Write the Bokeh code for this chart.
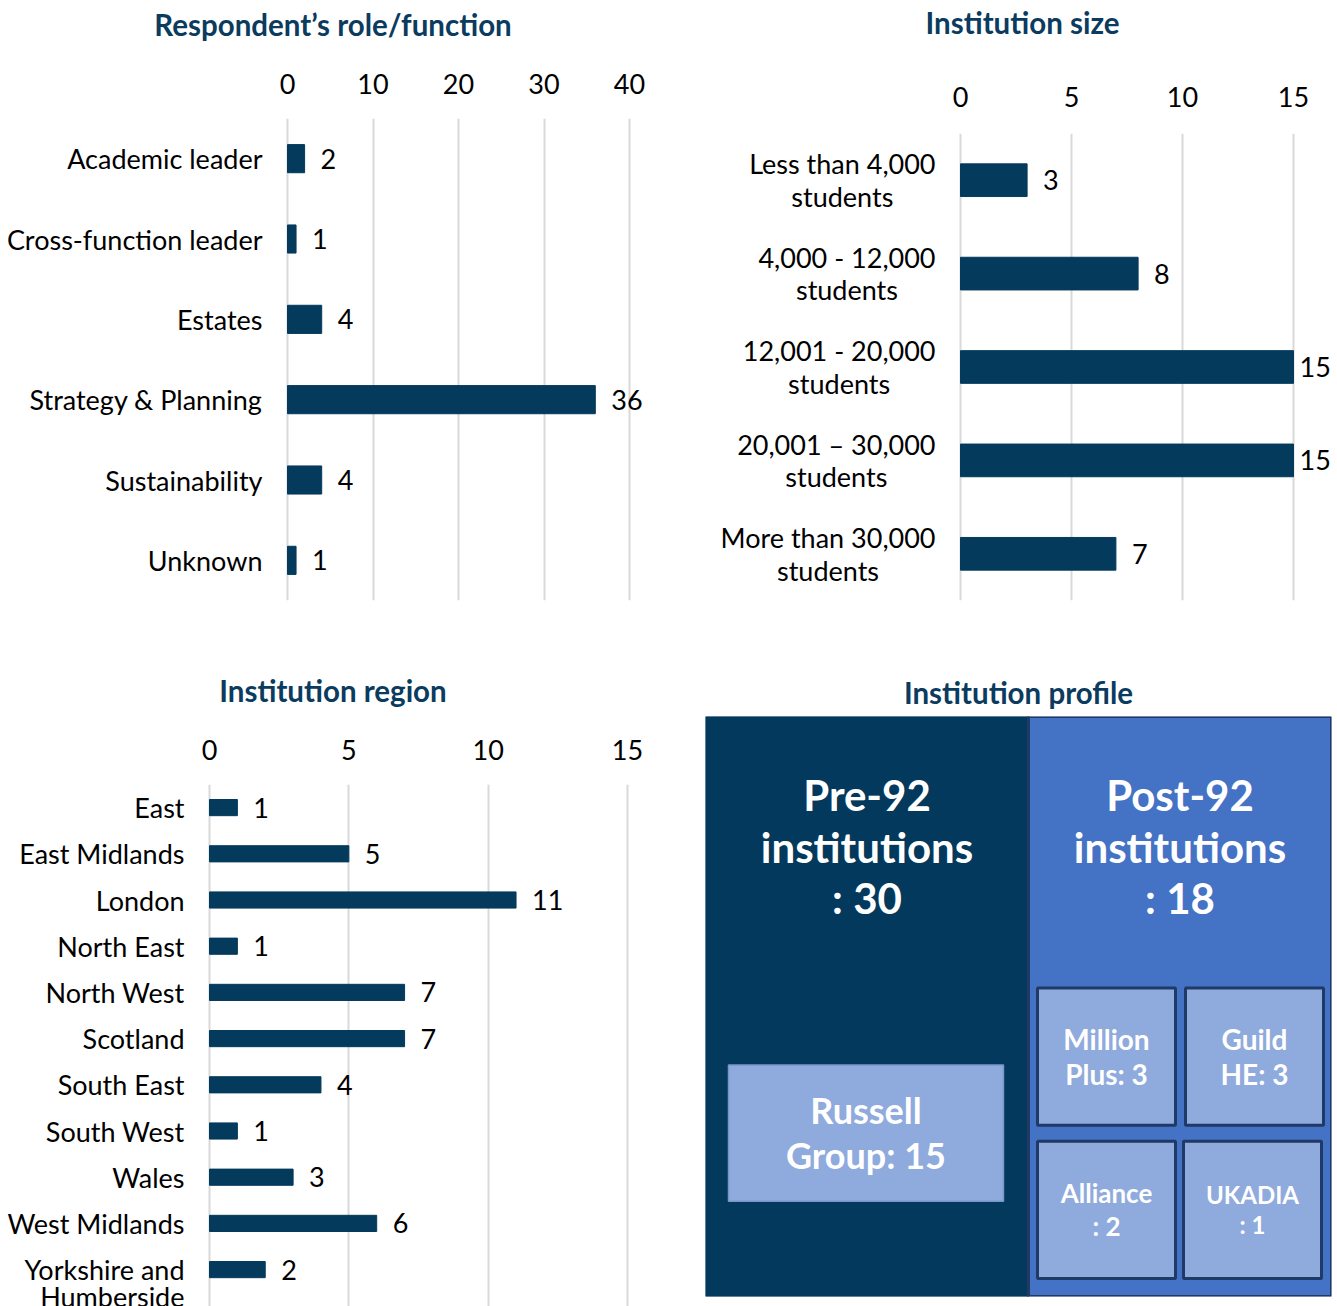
from bokeh.plotting import figure
from bokeh.models import Range1d, FactorRange, FixedTicker, ColumnDataSource
from bokeh.layouts import column, row
from bokeh.embed import file_html
from bokeh.resources import INLINE
from bokeh.core.properties import value

# ---------------- data ----------------
roles = ["Academic leader", "Cross-function leader", "Estates",
         "Strategy & Planning", "Sustainability", "Unknown"]
role_counts = [2, 1, 4, 36, 4, 1]
role_ticks = [0, 10, 20, 30, 40]

sizes = ["Less than 4,000\nstudents", "4,000 - 12,000\nstudents",
         "12,001 - 20,000\nstudents", "20,001 \u2013 30,000\nstudents",
         "More than 30,000\nstudents"]
size_counts = [3, 8, 15, 15, 7]
size_ticks = [0, 5, 10, 15]

regions = ["East", "East Midlands", "London", "North East", "North West",
           "Scotland", "South East", "South West", "Wales", "West Midlands",
           "Yorkshire and\nHumberside"]
region_counts = [1, 5, 11, 1, 7, 7, 4, 1, 3, 6, 2]
region_ticks = [0, 5, 10, 15]

profile_groups = ["Pre-92 institutions", "Post-92 institutions", "Russell Group",
                  "Million Plus", "Guild HE", "Alliance", "UKADIA"]
profile_counts = [30, 18, 15, 3, 3, 2, 1]
profile_label_fmt = ["Pre-92\ninstitutions\n: {}", "Post-92\ninstitutions\n: {}",
                     "Russell\nGroup: {}", "Million\nPlus: {}", "Guild\nHE: {}",
                     "Alliance\n: {}", "UKADIA\n: {}"]

# ---------------- style ----------------
FONT = "Lato"
BAR = "#043A5C"
TITLE_C = "#0B3B5E"
GRID = "#D9D9D9"
LBL = "27px"
TTL = "29.5px"

W_L, W_R = 665, 672
H_T, H_B = 666, 640


def plain(p):
    p.outline_line_color = None
    p.background_fill_color = "white"
    p.border_fill_color = "white"


def bar_panel(title, cats, vals, ticks, width, height, x_range, y_range, ypos,
              borders, title_standoff, label_standoff, line_px,
              center_lines=False):
    nlines = [c.count("\n") + 1 for c in cats]
    # value labels sit 16px after the bar, pulled in when the bar reaches the last tick
    voff = [16 if v < ticks[-1] else 6 for v in vals]
    # multi-line labels: first line level with the bar (right-aligned blocks) or centred
    yoff = [0 if center_lines else (n - 1) * line_px / 2 for n in nlines]
    src = ColumnDataSource(dict(cat=cats, y=ypos, val=vals,
                                vtxt=[str(v) for v in vals],
                                zero=[0] * len(cats), voff=voff, yoff=yoff))
    p = figure(width=width, height=height,
               y_range=y_range, x_range=x_range, x_axis_location="above",
               output_backend="svg", toolbar_location=None, frame_align=False,
               min_border_left=borders[0], min_border_right=borders[1],
               min_border_top=borders[2], min_border_bottom=borders[3])
    plain(p)
    p.yaxis.visible = False
    ax = p.xaxis[0]
    ax.ticker = FixedTicker(ticks=ticks)
    ax.major_tick_in = 0
    ax.major_tick_out = 0
    ax.minor_tick_in = 0
    ax.minor_tick_out = 0
    ax.axis_line_color = None
    ax.major_label_text_font = FONT
    ax.major_label_text_font_size = LBL
    ax.major_label_text_color = "#000000"
    ax.major_label_standoff = label_standoff
    ax.axis_label = title
    ax.axis_label_text_font = FONT
    ax.axis_label_text_font_style = "bold"
    ax.axis_label_text_font_size = TTL
    ax.axis_label_text_color = TITLE_C
    ax.axis_label_standoff = title_standoff
    p.xgrid.grid_line_color = GRID
    p.xgrid.grid_line_width = 2
    p.ygrid.grid_line_color = None

    p.hbar(y="y", left="zero", right="val", height=0.35, source=src,
           fill_color=BAR, line_color=BAR, line_width=1)
    p.text(x="val", y="y", text="vtxt", source=src, x_offset="voff",
           text_align="left", text_baseline="middle",
           text_font=value(FONT), text_font_size=LBL, text_color="#000000")
    lh = line_px / (1.2 * 27)
    if center_lines:
        p.text(x="zero", y="y", text="cat", source=src, x_offset=-25,
               anchor="center_right", text_align="center", text_baseline="middle",
               text_line_height=lh,
               text_font=value(FONT), text_font_size=LBL, text_color="#000000")
    else:
        p.text(x="zero", y="y", text="cat", source=src, x_offset=-25,
               y_offset="yoff", text_align="right", text_baseline="middle",
               text_line_height=lh,
               text_font=value(FONT), text_font_size=LBL, text_color="#000000")
    return p


# panel 1: 0 -> 287px, 40 -> 629px ; frame 5..660
s1 = (629 - 287) / 40.0
p1 = bar_panel("Respondent\u2019s role/function", roles, role_counts, role_ticks,
               W_L, H_T, Range1d(-(287 - 5) / s1, (660 - 287) / s1),
               FactorRange(factors=list(reversed(roles))), roles,
               (5, 5, 118, 66), title_standoff=29, label_standoff=25, line_px=27)

# panel 2: 0 -> 960, 15 -> 1293 (abs) ; frame 707..1337 abs
s2 = (1293 - 960) / 15.0
p2 = bar_panel("Institution size", sizes, size_counts, size_ticks,
               W_R, H_T, Range1d(-(960 - 707) / s2, (1337 - 960) / s2),
               FactorRange(factors=list(reversed(sizes))), sizes,
               (42, 0, 133, 66), title_standoff=44, label_standoff=27, line_px=32,
               center_lines=True)

# panel 3: 0 -> 209, 15 -> 627 ; frame 5..660 ; rows 46.2px apart, first at 141
s3 = (627 - 209) / 15.0
idx3 = list(range(len(regions)))
p3 = bar_panel("Institution region", regions, region_counts, region_ticks,
               W_L, H_B, Range1d(-(209 - 5) / s3, (660 - 209) / s3),
               Range1d(-0.5 + (640 - 118) / 46.2, -0.5), idx3,
               (5, 5, 118, 0), title_standoff=29, label_standoff=25, line_px=27)

# panel 4: diagram of institution profile (layout units = px inside frame)
DARK = "#03395C"
MID = "#4472C4"
LIGHT = "#8FAADC"
box_left = [0, 323, 23, 332, 480, 332, 478]
box_right = [323, 626, 298, 470, 618, 470, 616]
box_top = [0, 0, 348, 271, 271, 424, 424]
box_bottom = [579, 579, 484, 408, 408, 561, 561]
box_fill = [DARK, MID, LIGHT, LIGHT, LIGHT, LIGHT, LIGHT]
box_line = [DARK, "#1F3A66", "#7A97CC", "#1F3A66", "#1F3A66", "#1F3A66", "#1F3A66"]
box_lw = [2, 3, 1.5, 3, 3, 3, 3]
txt_y = [130, 130, None, None, None, None, None]
txt_dy = [0, 0, -1, 0, 0, 0, 0]
txt_size = ["42px", "42px", "36px", "28px", "28px", "26px", "24px"]

psrc = ColumnDataSource(dict(
    l=box_left, r=box_right, t=box_top, b=box_bottom,
    fill=box_fill, line=box_line, lw=box_lw,
    cx=[(a + b) / 2 for a, b in zip(box_left, box_right)],
    cy=[ty if ty is not None else (a + b) / 2 + d
        for ty, a, b, d in zip(txt_y, box_top, box_bottom, txt_dy)],
    txt=[f.format(c) for f, c in zip(profile_label_fmt, profile_counts)],
    fs=txt_size, name=profile_groups))

p4 = figure(width=W_R, height=H_B, title="Institution profile",
            x_range=Range1d(0, 626), y_range=Range1d(579, 0),
            output_backend="svg", toolbar_location=None, frame_align=False,
            min_border_left=40, min_border_right=6, min_border_top=0,
            min_border_bottom=10)
plain(p4)
p4.title.text_font = FONT
p4.title.text_font_style = "bold"
p4.title.text_font_size = TTL
p4.title.text_color = TITLE_C
p4.title.align = "center"
p4.title.standoff = 13
p4.axis.visible = False
p4.grid.visible = False
p4.quad(left="l", right="r", top="t", bottom="b", source=psrc,
        fill_color="fill", line_color="line", line_width="lw")
p4.text(x="cx", y="cy", text="txt", source=psrc, text_align="center",
        text_baseline="middle", text_font=value(FONT), text_font_style="bold",
        text_font_size="fs", text_color="#FFFFFF", text_line_height=1.03)

layout = column(row(p1, p2), row(p3, p4))
open("out.html", "w").write(file_html(layout, INLINE))
